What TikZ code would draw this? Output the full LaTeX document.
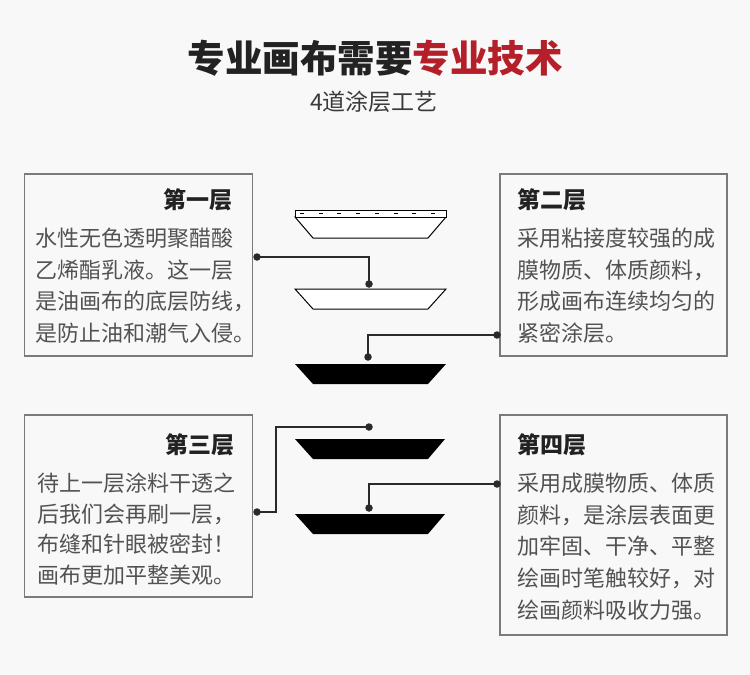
\documentclass[tikz,border=0pt]{standalone}
\usepackage{fontspec}
\setmainfont{Noto Sans CJK SC}
\definecolor{bg}{HTML}{F8F8F8}
\definecolor{dark}{HTML}{222222}
\definecolor{accent}{HTML}{B41F29}
\definecolor{bodygray}{HTML}{525252}
\definecolor{subgray}{HTML}{3A3A3A}
\definecolor{boxgray}{HTML}{7A7A7A}
\definecolor{linegray}{HTML}{2A2A2A}
\begin{document}
\begin{tikzpicture}[x=1pt,y=-1pt,
  infobox/.style={draw=boxgray, line width=1.1pt, inner sep=0, fill=bg},
  boxtitle/.style={font=\fontsize{23}{26}\selectfont\bfseries, text=dark, inner sep=0},
  bodytext/.style={font=\fontsize{22}{26}\selectfont, text=bodygray, inner sep=0, anchor=base west},
  conn/.style={draw=linegray, line width=1.1pt},
  dot/.style={circle, fill=linegray, inner sep=0, minimum size=7.5pt},
  whitelayer/.style={draw=black, fill=white, line width=1pt, line join=miter},
  blacklayer/.style={fill=black},
]
\fill[bg] (0,0) rectangle (750,675);
\useasboundingbox (0,0) rectangle (750,675);

% title
\node[font=\fontsize{37.5}{40}\selectfont\bfseries, inner sep=0, anchor=base] (title) at (375,72.3)
  {\textcolor{dark}{专业画布需要}\textcolor{accent}{专业技术}};
\node[font=\fontsize{23}{26}\selectfont, text=subgray, inner sep=0, anchor=base] (subtitle) at (374,110.7) {4道涂层工艺};

% boxes
\node[infobox, minimum width=228pt, minimum height=182pt] (box1) at (138.5,265) {};
\node[infobox, minimum width=227pt, minimum height=182pt] (box2) at (613.5,265) {};
\node[infobox, minimum width=228pt, minimum height=182pt] (box3) at (138.5,506) {};
\node[infobox, minimum width=227pt, minimum height=220pt] (box4) at (613.5,525) {};

% box titles
\node[boxtitle, anchor=base east] (t1) at (233,208.7) {第一层};
\node[boxtitle, anchor=base west] (t2) at (517,208.7) {第二层};
\node[boxtitle, anchor=base east] (t3) at (235,453.7) {第三层};
\node[boxtitle, anchor=base west] (t4) at (517,453.7) {第四层};

% body texts
\foreach \t [count=\i] in {水性无色透明聚醋酸,乙烯酯乳液。这一层,是油画布的底层防线，,是防止油和潮气入侵。}
  \node[bodytext] (b1l\i) at (35,{246.4+(\i-1)*31.7}) {\t};
\foreach \t [count=\i] in {采用粘接度较强的成,膜物质、体质颜料，,形成画布连续均匀的,紧密涂层。}
  \node[bodytext] (b2l\i) at (517,{246.4+(\i-1)*31.7}) {\t};
\foreach \t [count=\i] in {待上一层涂料干透之,后我们会再刷一层，,布缝和针眼被密封！,画布更加平整美观。}
  \node[bodytext] (b3l\i) at (37,{491.4+(\i-1)*30.7}) {\t};
\foreach \t [count=\i] in {采用成膜物质、体质,颜料，是涂层表面更,加牢固、干净、平整,绘画时笔触较好，对,绘画颜料吸收力强。}
  \node[bodytext] (b4l\i) at (517,{491.4+(\i-1)*31.7}) {\t};

% layer 1 (top)
\draw[whitelayer] (295,217) -- (446,217) -- (428,238) -- (313,238) -- cycle;
\draw[whitelayer] (295,210) rectangle (446,217);
\draw[black, line width=0.9pt, dash pattern=on 4pt off 14.7pt] (300,213.5) -- (446,213.5);
% layer 2
\draw[whitelayer] (295,289) -- (446,289) -- (428,309) -- (313,309) -- cycle;
% layers 3-5
\fill[blacklayer] (295,364) -- (446,364) -- (428,384) -- (313,384) -- cycle;
\fill[blacklayer] (295,439) -- (445,439) -- (428,459) -- (313,459) -- cycle;
\fill[blacklayer] (295,514) -- (445,514) -- (428,534) -- (313,534) -- cycle;

% connectors
\node[dot] (d1a) at (257,257) {};
\node[dot] (d1b) at (369,284) {};
\draw[conn] (d1a.center) -| (d1b.center);

\node[dot] (d2a) at (497,335) {};
\node[dot] (d2b) at (368,357) {};
\draw[conn] (d2b.center) |- (d2a.center);

\node[dot] (d3a) at (257,512) {};
\node[dot] (d3b) at (369,427) {};
\coordinate (c3) at (276,427);
\draw[conn] (d3b.center) -- (c3) |- (d3a.center);

\node[dot] (d4a) at (497,484) {};
\node[dot] (d4b) at (369,508) {};
\draw[conn] (d4b.center) |- (d4a.center);
\end{tikzpicture}
\end{document}
